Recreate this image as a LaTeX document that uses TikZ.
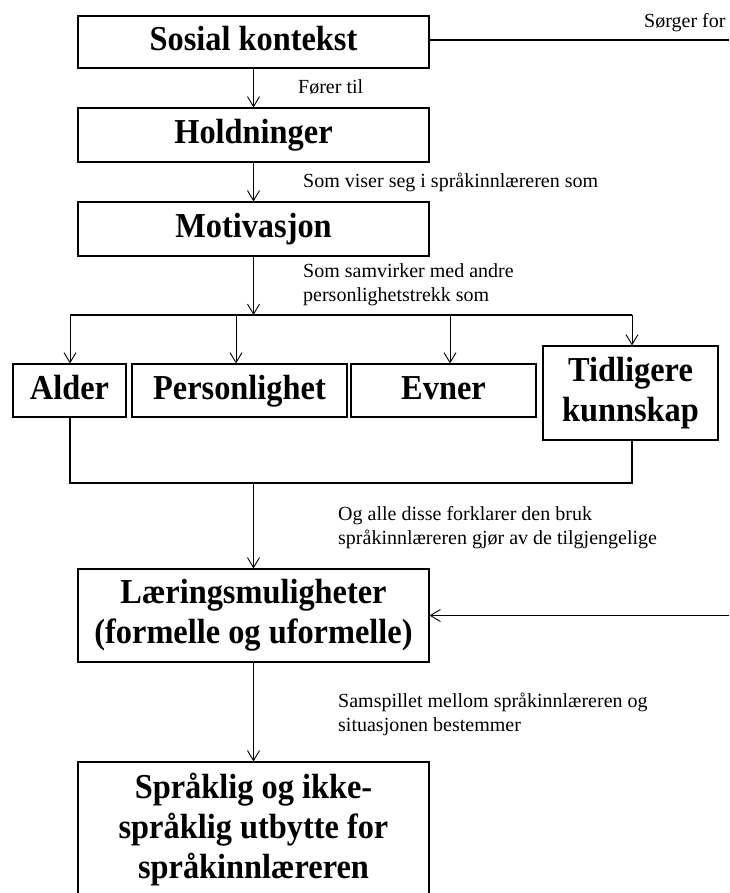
\documentclass[tikz,border=0pt]{standalone}
\usepackage{fontspec}
\setmainfont{Liberation Serif}
\newfontfamily\boxfont[FakeStretch=0.925]{Liberation Serif}
\usetikzlibrary{arrows.meta}
\tikzset{
  box/.style={draw, line width=1.1pt, inner sep=0pt, align=center,
    font=\boxfont\bfseries\fontsize{35}{40}\selectfont},
  onebox/.style={box, text height=25pt, text depth=8pt},
  lbl/.style={inner sep=0pt, anchor=west, align=left,
    font=\fontsize{20}{24}\selectfont},
  arr/.style={line width=0.9pt, -{Straight Barb[length=10pt,width=12pt,line width=0.9pt]}},
  thickln/.style={line width=2pt},
}
\begin{document}
\begin{tikzpicture}[x=1pt,y=-1pt]
\useasboundingbox (0,0) rectangle (729,893);
\clip (0,0) rectangle (729,893);
% boxes
\node[onebox, minimum width=351pt, minimum height=52pt] (soc) at (253.5,42) {Sosial kontekst};
\node[onebox, minimum width=351pt, minimum height=54pt] (hold) at (253.5,135) {Holdninger};
\node[onebox, minimum width=351pt, minimum height=54pt] (mot) at (253.5,229) {Motivasjon};
\node[onebox, minimum width=113pt, minimum height=53pt] (alder) at (69.5,390.5) {Alder};
\node[onebox, minimum width=215pt, minimum height=53pt] (pers) at (239.5,390.5) {Personlighet};
\node[onebox, minimum width=185pt, minimum height=53pt] (evner) at (443.5,390.5) {Evner};
\node[box, minimum width=175pt, minimum height=94pt] (tidl) at (630.5,393) {Tidligere\\kunnskap};
\node[box, minimum width=351pt, minimum height=93pt] (laer) at (253.5,615.5) {Læringsmuligheter\\(formelle og uformelle)};
\node[box, minimum width=351pt, minimum height=136pt] (spr) at (253.5,830) {Språklig og ikke-\\språklig utbytte for\\språkinnlæreren};
% labels
\node[lbl] (l0) at (644,23) {Sørger for};
\node[lbl] (l1) at (298,87) {Fører til};
\node[lbl] (l2) at (303,182) {Som viser seg i språkinnlæreren som};
\node[lbl] (l3) at (303,285) {Som samvirker med andre\\personlighetstrekk som};
\node[lbl] (l4) at (338,527.5) {Og alle disse forklarer den bruk\\språkinnlæreren gjør av de tilgjengelige};
\node[lbl] (l5) at (338,714) {Samspillet mellom språkinnlæreren og\\situasjonen bestemmer};
% coordinates
\coordinate (sorgEnd) at (729,40);
\coordinate (laerIn) at (729,615.5);
\coordinate (busM) at (253.5,315);
\coordinate (busA) at (70,315);
\coordinate (busP) at (236,315);
\coordinate (busE) at (450,315);
\coordinate (busT) at (632,315);
\coordinate (botA) at (70,483);
\coordinate (botT) at (632,483);
\coordinate (botM) at (253.5,483);
% connectors
\draw[thickln] (soc.east |- sorgEnd) -- (sorgEnd);
\draw[arr] (soc) -- (hold);
\draw[arr] (hold) -- (mot);
\draw[arr] (mot) -- (busM);
\draw[thickln] (busA) -- (busT);
\draw[arr] (busA) -- (busA |- alder.north);
\draw[arr] (busP) -- (busP |- pers.north);
\draw[arr] (busE) -- (busE |- evner.north);
\draw[arr] (busT) -- (busT |- tidl.north);
\draw[thickln] (botA |- alder.south) -- (botA) -- (botT) -- (botT |- tidl.south);
\draw[arr] (botM) -- (laer);
\draw[arr] (laerIn) -- (laer.east);
\draw[arr] (laer) -- (spr);
\end{tikzpicture}
\end{document}
